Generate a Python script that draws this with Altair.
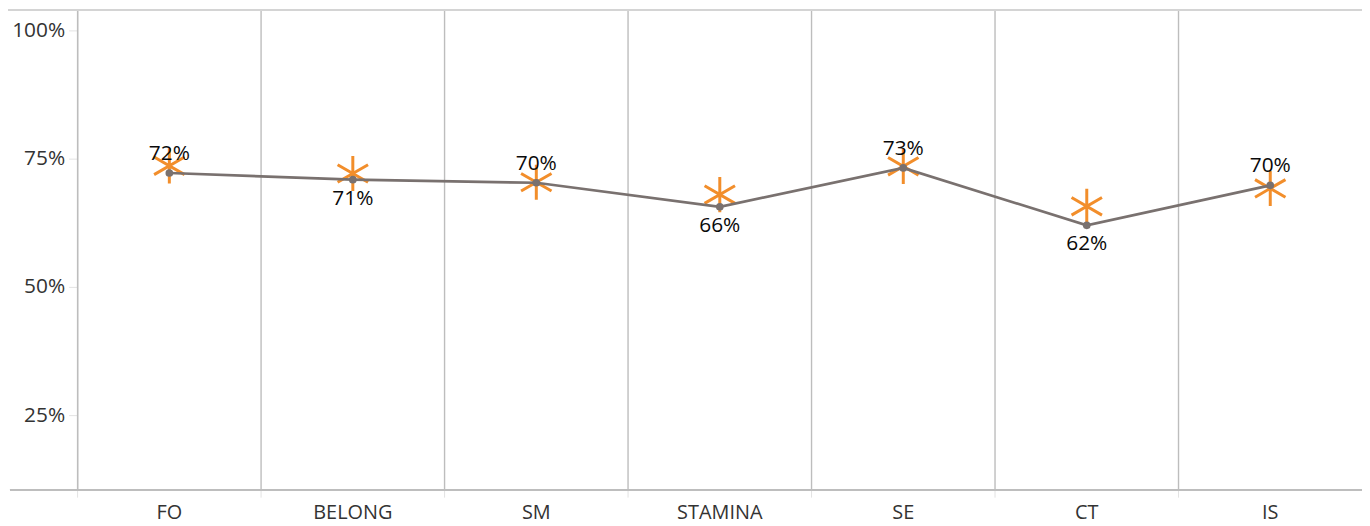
import altair as alt
import pandas as pd

categories = ["FO", "BELONG", "SM", "STAMINA", "SE", "CT", "IS"]
line_values = [0.722, 0.709, 0.703, 0.656, 0.732, 0.620, 0.698]
star_values = [0.736, 0.721, 0.704, 0.680, 0.735, 0.657, 0.692]
y_ticks = [0.25, 0.5, 0.75, 1.0]

df = pd.DataFrame({"cat": categories, "line": line_values, "star": star_values})

W, H = 1292, 483
FONT = "Open Sans"
LINE_COLOR = "#79716f"
STAR_COLOR = "#f28e2b"
GRID_COLOR = "#bdbdbd"

xscale = alt.Scale(paddingInner=0, paddingOuter=0)
xaxis = alt.X("cat:N", sort=categories, scale=xscale,
              axis=alt.Axis(title=None, domain=False, ticks=False, grid=False,
                            labelFontSize=20, labelColor="#333333", labelFont=FONT,
                            labelPadding=13, labelAngle=0, labelAlign="center",
                            labelOverlap=False, labelFlush=False))
xplain = alt.X("cat:N", sort=categories, scale=xscale, axis=None)
xedge = alt.X("cat:N", sort=categories, scale=xscale, axis=None, bandPosition=0)
yscale = alt.Scale(domain=[0.1047, 1.0407], nice=False, zero=False)
yaxis = alt.Y("line:Q", scale=yscale,
              axis=alt.Axis(title=None, values=y_ticks, format=".0%", domain=False,
                            grid=False, tickColor="#e3e3e3", tickSize=9, labelPadding=4,
                            labelFontSize=21, labelColor="#333333", labelFont=FONT))
yplain = alt.Y("line:Q", scale=yscale, axis=None)

base = alt.Chart(df)

stars = base.mark_point(shape="M0,-1L0,1M-0.866,-0.5L0.866,0.5M-0.866,0.5L0.866,-0.5",
                        filled=False, stroke=STAR_COLOR,
                        strokeWidth=3, size=1250, opacity=1).encode(
    x=xplain, y=alt.Y("star:Q", scale=yscale, axis=None)
)
pane_lines = base.mark_rule(color=GRID_COLOR, strokeWidth=1.4).encode(x=xedge)
pane_ticks = base.mark_rule(color="#e3e3e3", strokeWidth=1).encode(
    x=xedge, y=alt.value(H + 1), y2=alt.value(H + 8)
)
bottom_line = base.mark_rule(color=GRID_COLOR, strokeWidth=1.4).encode(
    x=alt.value(-68), x2=alt.value(W), y=alt.value(H)
)
top_line = base.mark_rule(color="#d4d4d4", strokeWidth=1.4).encode(
    x=alt.value(-70), x2=alt.value(W), y=alt.value(0.7)
)

line = base.mark_line(color=LINE_COLOR, strokeWidth=2.7).encode(x=xaxis, y=yaxis)
dots = base.mark_circle(color=LINE_COLOR, size=60, opacity=1).encode(x=xplain, y=yplain)

lab_base = base.transform_window(idx="row_number()")
labels_above = lab_base.transform_filter("datum.idx % 2 == 1").mark_text(
    font=FONT, fontSize=21, color="#0a0a0a", baseline="middle", dy=-19
).encode(x=xplain, y=yplain, text=alt.Text("line:Q", format=".0%"))
labels_below = lab_base.transform_filter("datum.idx % 2 == 0").mark_text(
    font=FONT, fontSize=21, color="#0a0a0a", baseline="middle", dy=19
).encode(x=xplain, y=yplain, text=alt.Text("line:Q", format=".0%"))

chart = alt.layer(
    stars, pane_lines, pane_ticks, bottom_line, top_line, line, dots,
    labels_above, labels_below
).resolve_axis(x="independent", y="independent").properties(
    width=W, height=H,
    autosize=alt.AutoSizeParams(type="none"),
    padding={"left": 70, "top": 0, "right": 0, "bottom": 35},
).configure_view(stroke=None).configure(background="white")

chart.save("out.html", embed_options={"renderer": "svg", "actions": False})
